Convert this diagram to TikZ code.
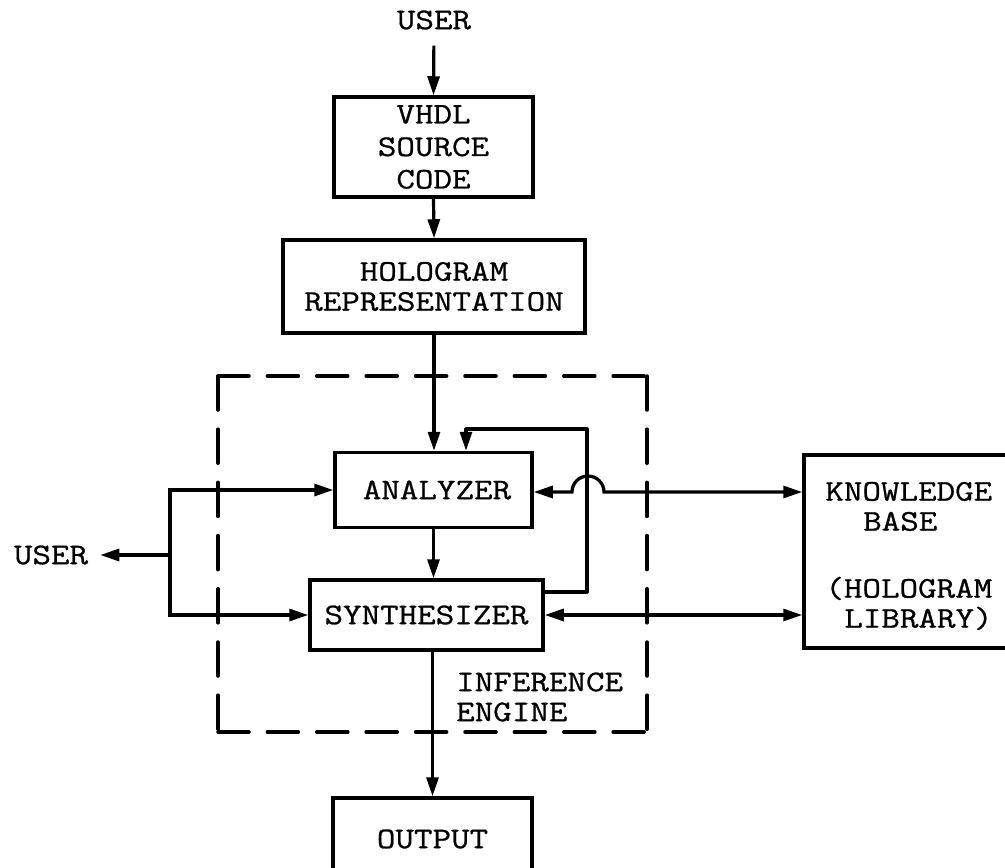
\documentclass[tikz,border=0pt]{standalone}
\usepackage{fontspec}
\setmonofont[FakeStretch=1.2,FakeBold=0.8]{Latin Modern Mono}
\usetikzlibrary{arrows.meta,calc}
\begin{document}
\begin{tikzpicture}[x=1pt,y=1pt,
  every node/.style={font=\ttfamily\fontsize{30}{30}\selectfont, inner sep=0pt},
  block/.style={draw, line width=3.5pt, align=center},
  link/.style={line width=3.2pt},
  tip/.tip={Triangle[length=19pt,width=12pt]},
  arr/.style={link, -tip},
  biarr/.style={link, tip-tip},
  frame/.style={line width=3.5pt, line cap=round}
]
\useasboundingbox (0,0) rectangle (1005,-868);
\clip (0,0) rectangle (1005,-868);

% blocks
\node (userTop) at (434,-20) {USER};
\node[block, minimum width=199pt, minimum height=100pt,
      font=\ttfamily\fontsize{30}{32.5}\selectfont] (vhdl) at (433.5,-147) {VHDL\\SOURCE\\CODE};
\node[block, minimum width=302pt, minimum height=93pt] (holo) at (434,-286.5) {HOLOGRAM\\REPRESENTATION};
\node[block, minimum width=197pt, minimum height=75pt] (ana) at (433.5,-490) {\hspace*{7pt}ANALYZER};
\node[block, minimum width=233pt, minimum height=70pt] (syn) at (426.5,-615) {SYNTHESIZER};
\node[block, minimum width=199pt, minimum height=82pt] (out) at (432.5,-839) {OUTPUT};
\node[block, minimum width=211pt, minimum height=193pt] (kb) at (909.5,-551.5) {};
\node[align=left] (kbtext) at (909,-556)
  {KNOWLEDGE\\\hspace*{1.26em}BASE\\[37pt](HOLOGRAM\\\hspace*{0.63em}LIBRARY)};
\node (userLeft) at (51,-555) {USER};
\node[align=left, anchor=west] (engine) at (456,-697) {INFERENCE\\ENGINE};

% inference engine frame
\draw[frame, dash pattern=on 31pt off 18.4pt] (218,-376) -- (647,-376);
\draw[frame, dash pattern=on 31pt off 18.4pt] (218,-732) -- (647,-732);
\draw[frame, dash pattern=on 34pt off 19.2pt] (218,-376) -- (218,-732);
\draw[frame, dash pattern=on 34pt off 19.2pt] (647,-376) -- (647,-732);

% main flow
\draw[arr, shorten <=16pt] (userTop.south) -- (vhdl.north);
\draw[arr] (vhdl.south) -- (holo.north);
\draw[arr] (holo.south) -- (holo.south |- ana.north);
\draw[arr] (ana.south) -- (ana.south |- syn.north);
\draw[arr] (out.north |- syn.south) -- (out.north);

% feedback from synthesizer to analyzer
\coordinate (fb) at (587,-429);
\draw[arr, line join=round] (syn.east |- 0,-592) -| (fb) -| ([xshift=32.5pt]ana.north);

% links to the knowledge base
\draw[biarr] (ana.east |- 0,-492) -- (572,-492)
  arc[start angle=180, end angle=0, radius=16] -- (kb.west |- 0,-492);
\draw[biarr] (syn.east) -- (kb.west |- syn.east);

% user bus on the left
\coordinate (bus) at (170,-555);
\draw[link, line cap=rect] (bus |- ana.west) -- (bus |- syn.west);
\draw[arr] (bus |- ana.west) -- (ana.west);
\draw[arr] (bus |- syn.west) -- (syn.west);
\draw[arr, shorten >=12pt] (bus) -- (userLeft.east);
\end{tikzpicture}
\end{document}
